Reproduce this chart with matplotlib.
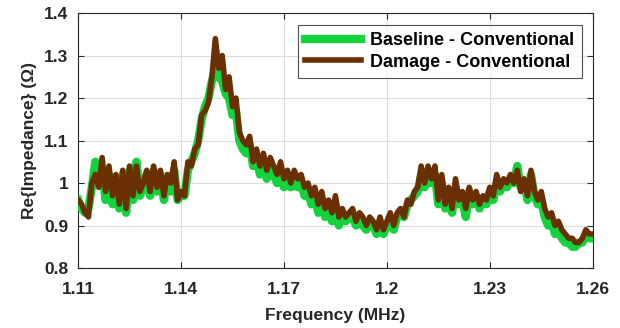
import numpy as np
import matplotlib
matplotlib.use("Agg")
import matplotlib.pyplot as plt

plt.rcParams['font.family'] = ['Liberation Sans', 'DejaVu Sans']
plt.rcParams['font.weight'] = 'bold'

# Frequency grid (MHz)
freq_start = 1.110
freq_step = 0.001

# Real part of impedance (ohm), damaged specimen
damage = [
    0.96, 0.95, 0.93, 0.92, 1.00, 1.02, 0.99, 1.06, 0.98, 1.04,
    0.97, 1.02, 0.95, 1.03, 0.94, 1.04, 0.97, 1.04, 0.98, 1.00,
    1.03, 0.98, 1.04, 0.99, 1.03, 0.97, 1.02, 1.00, 1.05, 0.96,
    0.98, 0.97, 1.05, 1.04, 1.08, 1.09, 1.16, 1.17, 1.19, 1.25,
    1.34, 1.27, 1.30, 1.22, 1.25, 1.18, 1.20, 1.12, 1.10, 1.09,
    1.11, 1.05, 1.08, 1.04, 1.07, 1.03, 1.06, 1.04, 1.02, 1.05,
    1.01, 1.03, 1.00, 1.03, 1.01, 1.02, 0.99, 1.00, 0.97, 0.99,
    0.95, 0.98, 0.94, 0.96, 0.93, 0.97, 0.92, 0.94, 0.92, 0.93,
    0.94, 0.91, 0.93, 0.92, 0.90, 0.92, 0.91, 0.89, 0.92, 0.89,
    0.91, 0.93, 0.90, 0.93, 0.94, 0.92, 0.96, 0.95, 0.98, 0.99,
    1.04, 1.00, 1.04, 1.01, 1.04, 0.96, 1.02, 0.95, 0.99, 0.94,
    1.01, 0.96, 0.98, 0.94, 0.99, 0.96, 0.98, 0.95, 0.97, 0.96,
    0.99, 0.97, 1.02, 0.99, 1.01, 1.00, 1.02, 1.00, 1.03, 0.98,
    1.01, 0.97, 1.03, 0.98, 0.96, 0.98, 0.94, 0.92, 0.93, 0.90,
    0.91, 0.89, 0.88, 0.87, 0.87, 0.86, 0.86, 0.87, 0.89, 0.88,
    0.88,
]

# Real part of impedance (ohm), baseline specimen
baseline = [
    0.96, 0.94, 0.93, 0.94, 0.99, 1.05, 1.00, 1.03, 0.96, 1.02,
    0.95, 1.01, 0.94, 1.02, 0.93, 1.03, 0.96, 1.05, 0.97, 0.99,
    1.02, 0.97, 1.03, 0.98, 1.02, 0.96, 1.01, 0.98, 1.03, 0.96,
    0.97, 0.97, 1.03, 1.05, 1.07, 1.10, 1.15, 1.18, 1.20, 1.24,
    1.27, 1.25, 1.24, 1.21, 1.20, 1.16, 1.17, 1.10, 1.08, 1.07,
    1.09, 1.04, 1.06, 1.02, 1.05, 1.01, 1.04, 1.02, 1.00, 1.03,
    0.99, 1.02, 0.99, 1.01, 0.99, 1.00, 0.97, 0.98, 0.95, 0.97,
    0.93, 0.96, 0.92, 0.95, 0.91, 0.95, 0.90, 0.93, 0.91, 0.92,
    0.92, 0.90, 0.92, 0.90, 0.89, 0.91, 0.90, 0.88, 0.90, 0.88,
    0.90, 0.92, 0.89, 0.92, 0.93, 0.92, 0.95, 0.96, 0.97, 0.98,
    1.02, 0.99, 1.01, 1.00, 1.02, 0.95, 1.00, 0.94, 0.97, 0.93,
    0.99, 0.95, 0.96, 0.92, 0.98, 0.95, 0.97, 0.94, 0.96, 0.95,
    0.98, 0.96, 1.00, 0.98, 1.00, 0.99, 1.01, 1.00, 1.04, 0.99,
    1.00, 0.96, 1.02, 0.97, 0.95, 0.96, 0.92, 0.90, 0.91, 0.88,
    0.89, 0.87, 0.86, 0.86, 0.85, 0.85, 0.86, 0.86, 0.88, 0.87,
    0.87,
]

x_ticks = [1.11, 1.14, 1.17, 1.2, 1.23, 1.26]
x_tick_labels = ['1.11', '1.14', '1.17', '1.2', '1.23', '1.26']
y_ticks = [0.8, 0.9, 1.0, 1.1, 1.2, 1.3, 1.4]
y_tick_labels = ['0.8', '0.9', '1', '1.1', '1.2', '1.3', '1.4']

freq = freq_start + freq_step * np.arange(len(damage))

fig = plt.figure(figsize=(6.2, 3.28), dpi=100)
ax = fig.add_axes([0.126, 0.183, 0.830, 0.777])

ax.plot(freq, baseline, color='#14d23c', lw=6.0, solid_joinstyle='round',
        label='Baseline - Conventional', zorder=3)
ax.plot(freq, damage, color='#6a3003', lw=4.0, solid_joinstyle='round',
        label='Damage - Conventional', zorder=4)

ax.set_xlim(1.11, 1.26)
ax.set_ylim(0.8, 1.4)
ax.set_xticks(x_ticks)
ax.set_xticklabels(x_tick_labels)
ax.set_yticks(y_ticks)
ax.set_yticklabels(y_tick_labels)
ax.tick_params(direction='in', top=True, right=True, length=4, width=0.8,
               labelsize=12.5, colors='#262626')
ax.tick_params(axis='x', pad=10)
ax.tick_params(axis='y', pad=7)
ax.grid(True, color='#dcdcdc', lw=0.8)
ax.set_axisbelow(True)
for s in ax.spines.values():
    s.set_color('#262626')
    s.set_linewidth(0.8)

ax.set_xlabel('Frequency (MHz)', fontsize=12.5, fontweight='bold', color='#262626', labelpad=8)
ax.set_ylabel('Re{Impedance} (Ω)', fontsize=12.5, fontweight='bold', color='#262626', labelpad=5)

leg = ax.legend(loc='upper right', fontsize=13, frameon=True, fancybox=False,
                edgecolor='#262626', handlelength=3.1, borderaxespad=0.45,
                handletextpad=0.5, borderpad=0.4, labelspacing=0.25,
                bbox_to_anchor=(0.994, 0.985))
leg.get_frame().set_linewidth(0.8)
for t in leg.get_texts():
    t.set_fontweight('bold')

fig.savefig('out.png', dpi=100)
